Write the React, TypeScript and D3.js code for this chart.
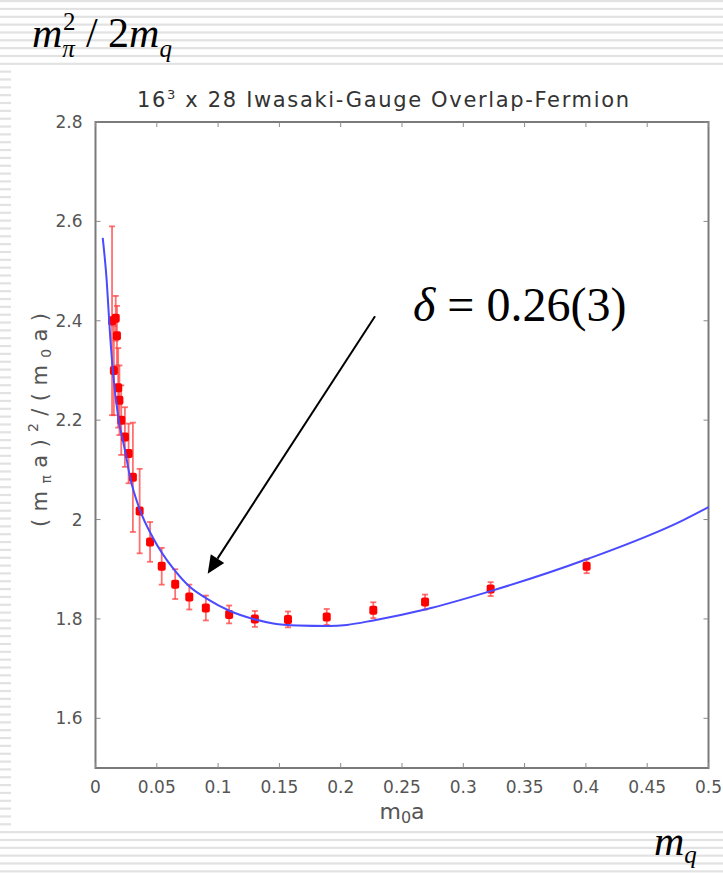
import React from "react";
import * as d3 from "d3";

const W = 723;
const H = 873;

// data: quark mass m0a, (m_pi a)^2/(m0 a), error
const mqValues = [0.0135, 0.0165, 0.0175, 0.015, 0.0185, 0.0195, 0.021, 0.024, 0.027, 0.0305, 0.036, 0.0445, 0.054, 0.065, 0.0765, 0.09, 0.109, 0.13, 0.157, 0.1886, 0.2266, 0.2688, 0.3223, 0.4006];
const ratioValues = [2.4, 2.405, 2.37, 2.3, 2.265, 2.24, 2.2, 2.166, 2.133, 2.085, 2.017, 1.955, 1.906, 1.87, 1.844, 1.822, 1.809, 1.8, 1.799, 1.804, 1.8175, 1.834, 1.86, 1.906];
const errValues = [0.19, 0.045, 0.06, 0.09, 0.08, 0.07, 0.07, 0.06, 0.06, 0.11, 0.085, 0.04, 0.037, 0.03, 0.025, 0.025, 0.018, 0.016, 0.016, 0.016, 0.016, 0.015, 0.014, 0.014];

// fit curve
const fitX = [0.0059, 0.0091, 0.0118, 0.0145, 0.0186, 0.024, 0.0281, 0.0363, 0.0472, 0.0635, 0.0771, 0.0907, 0.1097, 0.1287, 0.145, 0.165, 0.19, 0.205, 0.2266, 0.2688, 0.3223, 0.4006, 0.4795, 0.5];
const fitY = [2.567, 2.482, 2.375, 2.29, 2.205, 2.14, 2.086, 2.019, 1.962, 1.901, 1.864, 1.841, 1.816, 1.8, 1.791, 1.787, 1.786, 1.788, 1.797, 1.819, 1.856, 1.92, 1.999, 2.025];

const xTicks = [0, 0.05, 0.1, 0.15, 0.2, 0.25, 0.3, 0.35, 0.4, 0.45, 0.5];
const xTickLabels = ["0", "0.05", "0.1", "0.15", "0.2", "0.25", "0.3", "0.35", "0.4", "0.45", "0.5"];
const yTicks = [1.6, 1.8, 2.0, 2.2, 2.4, 2.6, 2.8];
const yTickLabels = ["1.6", "1.8", "2", "2.2", "2.4", "2.6", "2.8"];

// annotation (data coordinates)
const arrowTail = [0.228, 2.409];
const arrowTip = [0.0915, 1.891];
const deltaPos = [0.259, 2.4];

const plot = { left: 95.5, right: 708.5, top: 122, bottom: 768 };

export default function App() {
  const x = d3.scaleLinear().domain([0, 0.5]).range([plot.left, plot.right]);
  const y = d3.scaleLinear().domain([1.5, 2.8]).range([plot.bottom, plot.top]);

  const fitLine = d3
    .line<number>()
    .x((_, i) => x(fitX[i]))
    .y((_, i) => y(fitY[i]))
    .curve(d3.curveMonotoneX);

  const stripePeriod = 7.84;
  const stripes = d3.range(0, H / stripePeriod).map((i) => i * stripePeriod);

  const tx = x(arrowTip[0]);
  const ty = y(arrowTip[1]);
  const sx = x(arrowTail[0]);
  const sy = y(arrowTail[1]);
  const len = Math.hypot(tx - sx, ty - sy);
  const ux = (tx - sx) / len;
  const uy = (ty - sy) / len;
  const hl = 18;
  const hw = 8;
  const bx = tx - ux * hl;
  const by = ty - uy * hl;
  const head = `${tx},${ty} ${bx - uy * hw},${by + ux * hw} ${bx + uy * hw},${by - ux * hw}`;

  const tickFont = "DejaVu Sans, Verdana, sans-serif";
  const serif = "Liberation Serif, Times New Roman, serif";

  return (
    <svg
      width={W}
      height={H}
      style={{ position: "absolute", left: 0, top: 0, background: "#fff" }}
    >
      {/* striped slide background */}
      <g>
        {stripes.map((s, i) => {
          const inPanel = s > 70 && s < 828;
          return (
            <rect
              key={i}
              x={0}
              y={s}
              width={inPanel ? 11 : W}
              height={2.2}
              fill="#e2e2e2"
            />
          );
        })}
      </g>

      {/* frame */}
      <rect
        x={plot.left}
        y={plot.top}
        width={plot.right - plot.left}
        height={plot.bottom - plot.top}
        fill="none"
        stroke="#7a7a7a"
        strokeWidth={2}
      />
      {/* ticks */}
      {xTicks.map((t, i) => (
        <g key={"xt" + i}>
          <line x1={x(t)} x2={x(t)} y1={plot.bottom} y2={plot.bottom - 5} stroke="#8a8a8a" />
          <line x1={x(t)} x2={x(t)} y1={plot.top} y2={plot.top + 5} stroke="#8a8a8a" />
          <text
            x={x(t)}
            y={plot.bottom + 25}
            textAnchor="middle"
            fontFamily={tickFont}
            fontSize={17}
            fill="#555"
          >
            {xTickLabels[i]}
          </text>
        </g>
      ))}
      {yTicks.map((t, i) => (
        <g key={"yt" + i}>
          <line x1={plot.left} x2={plot.left + 5} y1={y(t)} y2={y(t)} stroke="#8a8a8a" />
          <line x1={plot.right} x2={plot.right - 5} y1={y(t)} y2={y(t)} stroke="#8a8a8a" />
          <text
            x={plot.left - 13}
            y={y(t) + 6}
            textAnchor="end"
            fontFamily={tickFont}
            fontSize={17}
            fill="#555"
          >
            {yTickLabels[i]}
          </text>
        </g>
      ))}

      {/* title */}
      <text
        x={137}
        y={107}
        fontFamily={tickFont}
        fontSize={21}
        fill="#333"
        textLength={492}
        lengthAdjust="spacing"
      >
        16<tspan dy={-8} fontSize={13}>3</tspan>
        <tspan dy={8}> x 28 Iwasaki-Gauge Overlap-Fermion</tspan>
      </text>

      {/* axis labels */}
      <text
        x={(plot.left + plot.right) / 2}
        y={819}
        textAnchor="middle"
        fontFamily={tickFont}
        fontSize={22}
        fill="#555"
      >
        m<tspan dy={4} fontSize={16}>0</tspan>
        <tspan dy={-4}>a</tspan>
      </text>
      <text
        transform={`translate(47, 527) rotate(-90)`}
        fontFamily={tickFont}
        fontSize={21}
        fill="#555"
        textLength={214}
        lengthAdjust="spacing"
      >
        (m<tspan dy={4} fontSize={14}>π</tspan>
        <tspan dy={-4}>a)</tspan>
        <tspan dy={-9} fontSize={14}>2</tspan>
        <tspan dy={9}>/(m</tspan>
        <tspan dy={4} fontSize={14}>0</tspan>
        <tspan dy={-4}>a)</tspan>
      </text>

      {/* data */}
      <g>
        {mqValues.map((m, i) => {
          const cx = x(m);
          const y0 = y(ratioValues[i] - errValues[i]);
          const y1 = y(ratioValues[i] + errValues[i]);
          return (
            <g key={"e" + i} stroke="#ff4040" strokeOpacity={0.75} strokeWidth={1.8}>
              <line x1={cx} x2={cx} y1={y0} y2={y1} />
              <line x1={cx - 3} x2={cx + 3} y1={y0} y2={y0} />
              <line x1={cx - 3} x2={cx + 3} y1={y1} y2={y1} />
            </g>
          );
        })}
        {mqValues.map((m, i) => (
          <rect
            key={"p" + i}
            x={x(m) - 4}
            y={y(ratioValues[i]) - 4.5}
            width={8}
            height={9}
            rx={2}
            fill="#ff0000"
          />
        ))}
      </g>

      {/* fit */}
      <path
        d={fitLine(fitX) || ""}
        fill="none"
        stroke="#4a4aff"
        strokeWidth={2}
      />

      {/* annotation */}
      <line x1={sx} y1={sy} x2={bx} y2={by} stroke="#000" strokeWidth={2} />
      <polygon points={head} fill="#000" />
      <text
        x={x(deltaPos[0])}
        y={y(deltaPos[1])}
        fontFamily={serif}
        fontSize={48}
        fill="#000"
      >
        <tspan fontStyle="italic">δ</tspan> = 0.26(3)
      </text>

      {/* slide labels */}
      <text x={32} y={47} fontFamily={serif} fontSize={42} fill="#000">
        <tspan fontStyle="italic">m</tspan>
        <tspan fontSize={25} dy={10} fontStyle="italic">π</tspan>
        <tspan fontSize={25} dx={-12} dy={-27}>2</tspan>
        <tspan dy={17}> / 2</tspan>
        <tspan fontStyle="italic">m</tspan>
        <tspan fontSize={25} dy={10} fontStyle="italic">q</tspan>
      </text>
      <text x={654} y={855} fontFamily={serif} fontSize={42} fill="#000">
        <tspan fontStyle="italic">m</tspan>
        <tspan fontSize={25} dy={8} fontStyle="italic">q</tspan>
      </text>
    </svg>
  );
}
